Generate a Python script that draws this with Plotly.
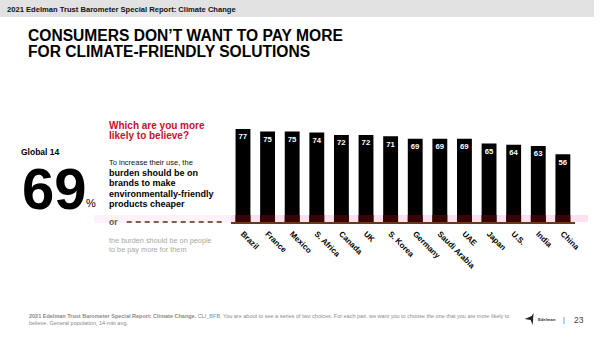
import plotly.graph_objects as go

countries = ["Brazil", "France", "Mexico", "S. Africa", "Canada", "UK", "S. Korea",
             "Germany", "Saudi Arabia", "UAE", "Japan", "U.S.", "India", "China"]
values = [77, 75, 75, 74, 72, 72, 71, 69, 69, 69, 65, 64, 63, 56]
global_value = 69
band_height = 5.8  # decorative dark band at base of bars

W, H = 600, 337
FONT = "Arial, Liberation Sans, sans-serif"

def px(x):
    return x / W

def py(y):
    return 1 - y / H

fig = go.Figure()
fig.add_trace(go.Bar(
    x=countries, y=values, marker=dict(color="#000000", line=dict(width=0)),
    text=["<b>" + str(v) + "</b>" for v in values], textposition="inside", insidetextanchor="end",
    textfont=dict(color="white", size=8.5, family=FONT), textangle=0,
    hoverinfo="x+y", showlegend=False,
))
fig.add_trace(go.Bar(
    x=countries, y=[band_height] * len(countries),
    marker=dict(color="#3a0404", line=dict(width=0)),
    hoverinfo="skip", showlegend=False,
))

ann = []

def T(x, y, text, size, color="#000", bold=False, anchor="left", yanchor="middle"):
    if bold:
        text = "<b>" + text + "</b>"
    ann.append(dict(x=px(x), y=py(y), xref="paper", yref="paper", text=text,
                    showarrow=False, xanchor=anchor, yanchor=yanchor,
                    font=dict(size=size, color=color, family=FONT)))

# header
T(5, 9, "2021 Edelman Trust Barometer Special Report: Climate Change", 7.6, "#111", True)
T(26, 35, "CONSUMERS DON’T WANT TO PAY MORE", 15.6, "#000", True)
T(26, 51.5, "FOR CLIMATE-FRIENDLY SOLUTIONS", 15.6, "#000", True)

# left panel
T(19, 152, "Global 14", 8.5, "#000", True)
T(20, 188, str(global_value), 58, "#000", True)
T(85, 203, "%", 11, "#000", False)
T(108, 125, "Which are you more", 10, "#c8102e", True)
T(108, 135.5, "likely to believe?", 10, "#c8102e", True)
T(108, 162.5, "To increase their use, the", 7.5, "#111")
T(108, 172.5, "burden should be on", 9, "#000", True)
T(108, 183, "brands to make", 9, "#000", True)
T(108, 193.5, "environmentally-friendly", 9, "#000", True)
T(108, 204, "products cheaper", 9, "#000", True)
T(108, 221.5, "or", 8.5, "#555", True)
T(108, 240, "the burden should be on people", 7.3, "#a8a8a8")
T(108, 249, "to be pay more for them", 7.3, "#a8a8a8")

# footer
T(27, 315.5, "<b>2021 Edelman Trust Barometer Special Report: Climate Change.</b> CLI_BFB. You are about to see a series of two choices. For each pair, we want you to choose the one that you are more likely to", 5.5, "#8a8a8a")
T(27, 322.5, "believe. General population, 14-mkt avg.", 5.5, "#8a8a8a")
T(541, 319.5, "<b>Edelman</b>", 4.2, "#333")
T(567, 319.5, "|", 7, "#555")
T(578, 319.5, "23", 8.5, "#444")

shapes = [
    # header band
    dict(type="rect", xref="paper", yref="paper", x0=0, x1=1, y0=py(17), y1=1,
         fillcolor="#e2e2e2", line=dict(width=0), layer="below"),
    # pink band behind baseline (lighter on the left)
    dict(type="rect", xref="paper", yref="paper", x0=px(95), x1=px(233), y0=py(223), y1=py(215),
         fillcolor="#fef1f9", line=dict(width=0), layer="below"),
    dict(type="rect", xref="paper", yref="paper", x0=px(233), x1=px(594), y0=py(222), y1=py(215),
         fillcolor="#fde0f2", line=dict(width=0), layer="below"),
    # dashed connector
    dict(type="line", xref="paper", yref="paper", x0=px(128), x1=px(226), y0=py(222), y1=py(222),
         line=dict(color="#5a2e0e", width=1.6, dash="5px,4px")),
    # logo mark
    dict(type="path", xref="paper", yref="paper",
         path=f"M {px(530)} {py(319)} L {px(537)} {py(316)} L {px(539)} {py(313)} L {px(538)} {py(325)} L {px(536)} {py(320)} Z",
         fillcolor="#222", line=dict(width=0)),
]

fig.update_layout(
    width=W, height=H, margin=dict(l=0, r=0, t=0, b=0),
    paper_bgcolor="white", plot_bgcolor="rgba(0,0,0,0)",
    barmode="overlay", bargap=0.396,
    annotations=ann, shapes=shapes,
    font=dict(family=FONT),
    xaxis=dict(domain=[px(233), px(581)], range=[-0.5, 13.5], tickangle=45,
               showline=True, linecolor="#6b3a10", linewidth=2, ticks="",
               showgrid=False, zeroline=False,
               tickfont=dict(size=8, color="#000", family=FONT),
               ticklabelstandoff=2),
    yaxis=dict(domain=[py(222), py(122)], range=[0, 100 / 1.208], visible=False,
               showgrid=False, zeroline=False),
)

fig.update_xaxes(tickvals=countries, ticktext=["<b>" + c + "</b>" for c in countries])

fig.write_html("out.html")
